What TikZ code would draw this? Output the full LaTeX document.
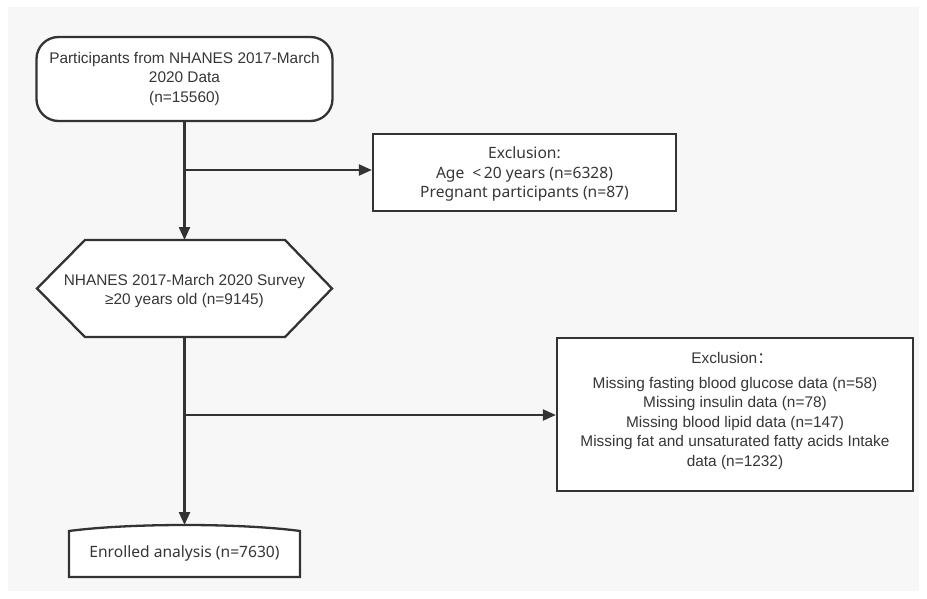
\documentclass[tikz,border=0pt]{standalone}
\usepackage{fontspec}
\setmainfont{Liberation Sans}
\newfontfamily\uifont{Noto Sans}
\newfontfamily\cjk{Noto Sans CJK SC}
\usetikzlibrary{arrows.meta}
\definecolor{ink}{HTML}{333333}
\definecolor{txt}{HTML}{363636}
\definecolor{panel}{HTML}{F7F7F7}
\tikzset{
  conn/.style={draw=ink, line width=2.3pt, -{Triangle[length=13pt,width=11pt]}},
  border/.style={draw=ink, line width=2.3pt, fill=white},
  lbl/.style={text=txt, align=center, font=\fontsize{15.4}{19.5}\selectfont, inner sep=0pt},
  uilbl/.style={text=txt, align=center, font=\uifont\fontsize{15.6}{19.5}\selectfont, inner sep=0pt},
}
\begin{document}
\begin{tikzpicture}[x=1pt,y=-1pt]
\useasboundingbox (0,0) rectangle (927,599);
\fill[white] (0,0) rectangle (927,599);
\fill[panel] (8,7) rectangle (919,591);
% top rounded node
\node[border, rounded corners=22pt, minimum width=296pt, minimum height=84pt, inner sep=0pt] (top) at (184.5,79) {};
\node[lbl] (toptxt) at (184.5,79) {Participants from NHANES 2017-March\\2020 Data\\(n=15560)};
% exclusion 1
\node[border, minimum width=303pt, minimum height=77pt, inner sep=0pt] (ex1) at (524.5,172.5) {};
\node[uilbl] (ex1txt) at (524.5,174) {Exclusion:\\Age\ \ {<}\,20 years (n=6328)\\Pregnant participants (n=87)};
% hexagon
\coordinate (hN) at (184.5,240);
\coordinate (hS) at (184.5,337);
\path[border] (37,288.5) -- (85,240) -- (285,240) -- (332,288.5) -- (285,337) -- (85,337) -- cycle;
\node[lbl] (hex) at (184.5,291) {NHANES 2017-March 2020 Survey\\≥20 years old (n=9145)};
% exclusion 2
\node[border, minimum width=356pt, minimum height=153pt, inner sep=0pt] (ex2) at (735,414.5) {};
\node[lbl] (ex2head) at (732,358) {Exclusion\cjk{：}};
\node[lbl] (ex2txt) at (735,423.5) {Missing fasting blood glucose data (n=58)\\Missing insulin data (n=78)\\Missing blood lipid data (n=147)\\Missing fat and unsaturated fatty acids Intake\\data (n=1232)};
% enrolled
\coordinate (eN) at (184.5,525);
\path[border] (69,577) -- (69,531) .. controls (130,523) and (240,523) .. (300,531) -- (300,577) -- cycle;
\node[uilbl] (enr) at (184.5,553) {Enrolled analysis (n=7630)};
% connectors
\coordinate (b1) at (184.5,170);
\coordinate (b2) at (184.5,415);
\draw[conn] (top.south) -- (hN);
\draw[conn] (b1) -- (ex1.west |- b1);
\draw[conn] (hS) -- (eN);
\draw[conn] (b2) -- (ex2.west |- b2);
\end{tikzpicture}
\end{document}
